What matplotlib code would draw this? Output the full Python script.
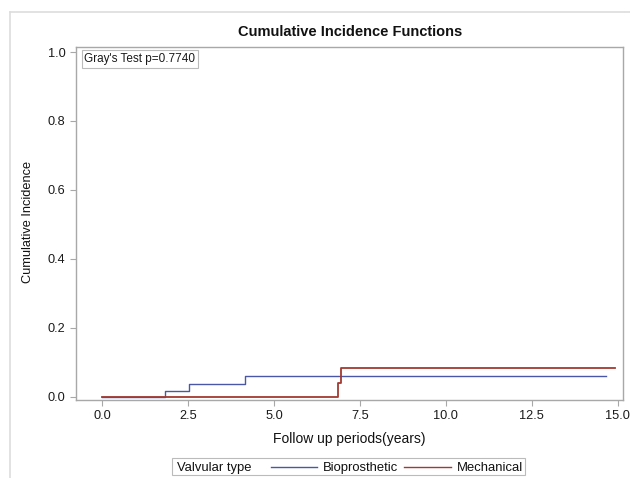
import matplotlib
matplotlib.use("Agg")
import matplotlib.pyplot as plt
from matplotlib.lines import Line2D
from matplotlib.patches import Rectangle

plt.rcParams['font.family'] = ['Liberation Sans', 'DejaVu Sans']

# Data (step functions: time, cumulative incidence)
bio_t = [0.0, 1.83, 2.52, 4.17, 14.65]
bio_y = [0.0, 0.018, 0.038, 0.060, 0.060]
mech_t = [0.0, 6.85, 6.94, 14.92]
mech_y = [0.0, 0.040, 0.084, 0.084]

legend_title = "Valvular type"
series_names = ["Bioprosthetic", "Mechanical"]
series_colors = ["#4a57a6", "#a23a30"]
x_ticks = [0.0, 2.5, 5.0, 7.5, 10.0, 12.5, 15.0]
y_ticks = [0.0, 0.2, 0.4, 0.6, 0.8, 1.0]

W, H = 630, 478
fig = plt.figure(figsize=(W/100, H/100), dpi=100)
ax = fig.add_axes([76/W, 1-400/H, (623-76)/W, (400-47)/H])

ax.step(bio_t, bio_y, where='post', color=series_colors[0], lw=1.0)
ax.step(mech_t, mech_y, where='post', color=series_colors[1], lw=1.3)

ax.set_xlim(-0.756, 15.15)
ax.set_ylim(-0.009, 1.0145)
ax.set_xticks(x_ticks)
ax.set_xticklabels([f"{v:.1f}" for v in x_ticks])
ax.set_yticks(y_ticks)
ax.set_yticklabels([f"{v:.1f}" for v in y_ticks])
for s in ax.spines.values():
    s.set_color('#a8a8a8')
    s.set_linewidth(1.0)
ax.tick_params(colors='#a8a8a8', labelcolor='#1a1a1a', labelsize=9.2, length=4, width=0.8)

ax.set_xlabel("Follow up periods(years)", fontsize=10, color='#111111', labelpad=7)
fig.text(28/W, 1-222/H, "Cumulative Incidence", rotation=90, ha='center', va='center',
         fontsize=9.2, color='#111111')
fig.text(350/W, 1-32/H, "Cumulative Incidence Functions", ha='center', va='center',
         fontsize=10.5, fontweight='bold', color='#111111')

ax.text(0.0155, 0.982, "Gray's Test p=0.7740", transform=ax.transAxes, ha='left', va='top',
        fontsize=8.5, color='#1a1a1a',
        bbox=dict(boxstyle='square,pad=0.25', fc='white', ec='#bbbbbb', lw=0.8))

# Outer frame (left and top lines)
fig.add_artist(Line2D([10/W, 10/W], [0, 1-12/H], transform=fig.transFigure,
                      color='#dddddd', lw=1.2))
fig.add_artist(Line2D([10/W, 1], [1-12/H, 1-12/H], transform=fig.transFigure,
                      color='#dddddd', lw=1.2))

# Legend (drawn manually, title inline)
ly = 1-466.5/H
fig.add_artist(Rectangle((172/W, 1-475/H), (525-172)/W, (475-458)/H,
                         transform=fig.transFigure, fc='white', ec='#bbbbbb', lw=0.8))
fig.text(177/W, ly, legend_title, ha='left', va='center_baseline', fontsize=9.4, color='#111111')
line_x = [(271, 317), (404, 451)]
text_x = [323, 457]
for name, col, (x0, x1), tx in zip(series_names, series_colors, line_x, text_x):
    fig.add_artist(Line2D([x0/W, x1/W], [ly, ly], transform=fig.transFigure,
                          color=col, lw=1.0))
    fig.text(tx/W, ly, name, ha='left', va='center_baseline', fontsize=9.4, color='#111111')

fig.savefig("out.png", dpi=100)
